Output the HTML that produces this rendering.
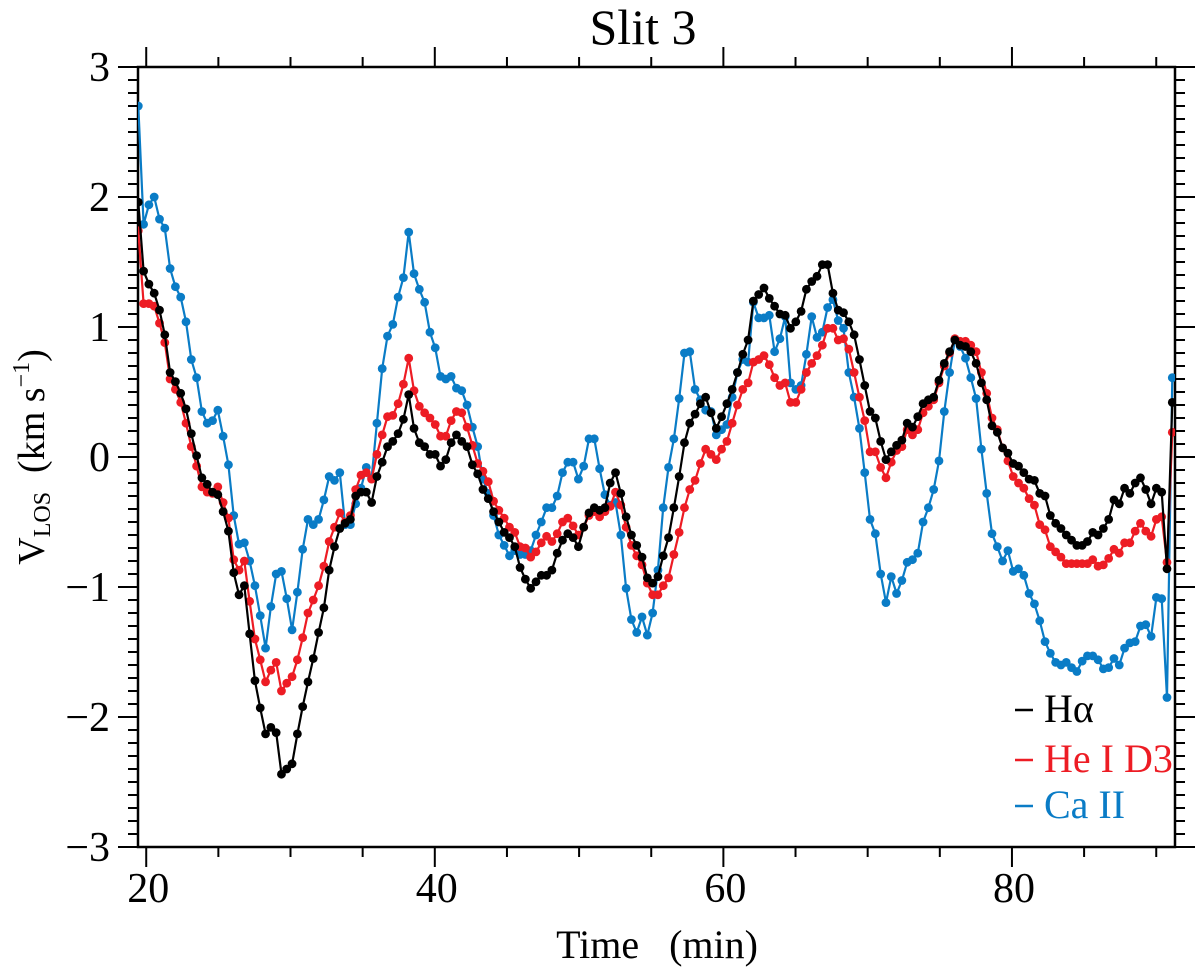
<!DOCTYPE html>
<html><head><meta charset="utf-8"><style>
html,body{margin:0;padding:0;background:#fff;}
svg{display:block;font-family:"Liberation Serif","DejaVu Serif",serif;}
</style></head><body>
<svg id="chart" width="1200" height="970" viewBox="0 0 1200 970" xmlns="http://www.w3.org/2000/svg">
<defs><clipPath id="clip"><rect x="138" y="67" width="1037" height="780"/></clipPath></defs>
<text x="643" y="44" font-size="50" text-anchor="middle">Slit 3</text>
<g id="axes"></g>
<g id="series" clip-path="url(#clip)"></g>
<text x="657" y="958" font-size="40" text-anchor="middle" xml:space="preserve">Time   (min)</text>
<text transform="translate(44,457) rotate(-90)" font-size="38" text-anchor="middle" xml:space="preserve">V<tspan font-size="24" dy="6">LOS</tspan><tspan dy="-6">  (km s</tspan><tspan font-size="24" dy="-15">−1</tspan><tspan dy="15">)</tspan></text>
<g font-size="40">
<g><line x1="1015" y1="710" x2="1033" y2="710" stroke="#000" stroke-width="2.5"/><text x="1044" y="722" fill="#000">Hα</text></g>
<g><line x1="1015" y1="760" x2="1033" y2="760" stroke="#ed1c24" stroke-width="2.5"/><text x="1044" y="772" fill="#ed1c24">He I D3</text></g>
<g><line x1="1015" y1="806" x2="1033" y2="806" stroke="#0a7cc6" stroke-width="2.5"/><text x="1044" y="818" fill="#0a7cc6">Ca II</text></g>
</g>
</svg>
<script>
const xTickLabels = ["20","40","60","80"];
const xTickValues = [20,40,60,80];
const yTickValues = [-3,-2,-1,0,1,2,3];
const yTickLabels = ["−3","−2","−1","0","1","2","3"];
const tStart = 19.45;
const tStep = 0.3675;
const halpha = [1.96,1.43,1.33,1.26,1.13,0.94,0.65,0.58,0.49,0.37,0.18,0.01,-0.16,-0.21,-0.27,-0.29,-0.42,-0.57,-0.89,-1.06,-0.99,-1.36,-1.72,-1.93,-2.13,-2.08,-2.12,-2.44,-2.40,-2.36,-2.13,-1.92,-1.73,
-1.55,-1.35,
-1.16,-0.87,-0.69,-0.55,-0.51,-0.48,-0.3,-0.27,-0.27,-0.35,-0.15,-0.04,0.08,0.12,0.18,0.29,0.48,0.22,0.11,0.08,0.02,0.02,-0.07,-0.02,0.11,0.17,0.12,0.08,-0.06,-0.13,
-0.25,-0.32,-0.42,-0.5,-0.58,-0.62,-0.69,-0.85,-0.94,-1.01,-0.96,-0.91,-0.91,-0.87,-0.74,-0.64,-0.59,-0.62,-0.69,-0.54,-0.43,-0.39,-0.41,-0.39,-0.2,-0.12,-0.28,-0.46,-0.6,-0.68,-0.77,-0.93,
-0.97,-0.92,-0.76,-0.62,-0.39,-0.15,0.11,0.26,0.33,0.41,0.46,0.34,0.22,0.31,0.41,0.52,0.65,0.79,0.9,
1.2,1.25,1.3,1.22,1.16,1.1,1.09,0.99,1.04,1.12,1.29,1.35,1.39,
1.48,1.48,1.26,1.13,1.11,1.04,0.94,0.75,0.55,0.35,0.3,0.12,-0.02,0.04,0.09,0.13,0.26,0.23,0.31,0.41,0.44,0.46,0.59,0.72,0.81,0.9,0.86,0.85,0.81,0.72,0.57,0.44,
0.24,0.19,0.07,0.03,-0.05,-0.07,-0.12,-0.17,-0.18,-0.28,-0.3,-0.45,-0.51,-0.55,-0.6,-0.64,-0.68,-0.68,-0.65,-0.58,-0.6,-0.55,-0.48,-0.33,-0.36,-0.24,-0.28,-0.2,-0.16,-0.25,-0.36,-0.24,-0.27,-0.86,0.42];
const heiD3 = [1.74,1.18,1.18,1.16,1.03,0.88,0.6,0.52,0.42,0.26,0.08,-0.07,-0.23,-0.27,-0.28,-0.23,-0.35,-0.47,-0.79,-0.87,-0.8,-1.11,-1.4,-1.56,-1.73,-1.64,-1.58,-1.8,-1.74,-1.69,-1.56,-1.39,-1.2,
-1.1,-0.99,
-0.84,-0.65,-0.54,-0.43,-0.5,-0.45,-0.25,-0.14,-0.12,-0.17,0.02,0.17,0.31,0.32,0.41,0.56,0.76,0.51,0.39,0.34,0.3,0.25,0.16,0.16,0.28,0.35,0.34,0.23,0.09,-0.05,
-0.11,-0.19,-0.34,-0.41,-0.47,-0.54,-0.58,-0.69,-0.7,-0.77,-0.73,-0.66,-0.61,-0.65,-0.59,-0.5,-0.47,-0.53,-0.6,-0.54,-0.45,-0.42,-0.46,-0.42,-0.38,-0.27,-0.37,-0.54,-0.68,-0.76,-0.83,-0.97,
-1.06,-1.06,-0.99,-0.93,-0.75,-0.58,-0.39,-0.25,-0.18,-0.05,0.06,0.02,-0.02,0.06,0.12,0.26,0.4,0.52,0.57,
0.73,0.75,0.78,0.71,0.61,0.55,0.57,0.42,0.42,0.52,0.65,0.72,0.78,
0.86,0.99,0.99,0.9,0.91,0.83,0.65,0.46,0.28,0.04,0.04,-0.08,-0.16,-0.04,0.05,0.08,0.21,0.17,0.21,0.34,0.39,0.44,0.57,0.7,0.8,0.91,0.89,0.89,0.86,0.81,0.65,0.49,
0.3,0.21,0.07,-0.03,-0.15,-0.2,-0.24,-0.32,-0.37,-0.52,-0.56,-0.69,-0.73,-0.77,-0.82,-0.82,-0.82,-0.82,-0.82,-0.79,-0.84,-0.83,-0.78,-0.71,-0.74,-0.66,-0.66,-0.57,-0.51,-0.57,-0.61,-0.48,-0.46,-0.81,0.19];
const caII = [2.7,1.79,1.94,2.0,1.83,1.76,1.45,1.31,1.23,1.04,0.75,0.61,0.35,0.26,0.28,0.36,0.16,-0.06,-0.45,-0.67,-0.66,-0.8,-0.99,-1.22,-1.47,-1.15,-0.9,-0.88,-1.09,-1.33,-1.04,-0.71,-0.48,
-0.52,-0.48,
-0.33,-0.15,-0.18,-0.12,-0.52,-0.52,-0.36,-0.24,-0.08,-0.16,0.26,0.68,0.93,1.02,1.23,1.38,1.73,1.41,1.29,1.19,0.96,0.84,0.62,0.6,0.62,0.53,0.51,0.4,0.23,0.08,
-0.17,-0.28,-0.45,-0.6,-0.68,-0.76,-0.72,-0.75,-0.75,-0.72,-0.6,-0.5,-0.39,-0.39,-0.3,-0.12,-0.04,-0.04,-0.17,-0.07,0.14,0.14,-0.09,-0.29,-0.37,-0.35,-0.6,-1.01,-1.25,-1.35,-1.23,-1.37,
-1.2,-0.87,-0.39,-0.08,0.14,0.45,0.8,0.81,0.52,0.44,0.36,0.35,0.17,0.21,0.25,0.46,0.65,0.75,0.73,
1.19,1.07,1.07,1.09,0.81,0.91,1.08,0.57,0.52,0.55,0.79,1.08,0.92,
0.96,1.15,1.21,1.05,0.99,0.65,0.46,0.22,-0.12,-0.48,-0.59,-0.9,-1.12,-0.92,-1.05,-0.95,-0.81,-0.79,-0.74,-0.5,-0.39,-0.25,-0.03,0.35,0.65,0.9,0.85,0.76,0.61,0.45,0.06,-0.28,
-0.59,-0.69,-0.8,-0.72,-0.88,-0.86,-0.91,-1.05,-1.13,-1.26,-1.42,-1.51,-1.58,-1.6,-1.58,-1.62,-1.65,-1.57,-1.53,-1.53,-1.56,-1.63,-1.62,-1.55,-1.6,-1.47,-1.43,-1.42,-1.3,-1.29,-1.38,-1.08,-1.09,-1.85,0.61];

const NS = "http://www.w3.org/2000/svg";
const L = 138, R = 1175, T = 67, B = 847;
const xMin = 19.43, xMax = 91.3, yMin = -3, yMax = 3;
function xs(t){ return L + (t - xMin) / (xMax - xMin) * (R - L); }
function ys(v){ return B - (v - yMin) / (yMax - yMin) * (B - T); }
function mk(tag, attrs, parent){ const e = document.createElementNS(NS, tag); for (const k in attrs) e.setAttribute(k, attrs[k]); parent.appendChild(e); return e; }

const axes = document.getElementById('axes');
const frame = mk('rect', {x:L, y:T, width:R-L, height:B-T, fill:'none', stroke:'#000', 'stroke-width':2.5}, axes);



for (let m = 20; m <= 90; m += 5) {
  const x = xs(m), major = (m % 20 === 0);
  const len = major ? 20 : 10;
  const tb = mk('line', {x1:x, y1:B, x2:x, y2:B+len, stroke:'#000', 'stroke-width':2}, axes);
  
  
  const tt = mk('line', {x1:x, y1:T, x2:x, y2:T-len, stroke:'#000', 'stroke-width':2}, axes);
  
  
}
xTickValues.forEach((v, i) => {
  const t = mk('text', {x:xs(v)+2, y:902, 'font-size':42, 'text-anchor':'middle'}, axes);
  t.textContent = xTickLabels[i];
  
  
});
for (let k = -30; k <= 30; k++) {
  const v = k / 10, y = ys(v), major = (k % 10 === 0);
  const len = major ? 20 : 10;
  const tl = mk('line', {x1:L, y1:y, x2:L-len, y2:y, stroke:'#000', 'stroke-width':2}, axes);
  
  
  const tr = mk('line', {x1:R, y1:y, x2:R+len, y2:y, stroke:'#000', 'stroke-width':2}, axes);
  
  
}
yTickValues.forEach((v, i) => {
  const t = mk('text', {x:110, y:ys(v)+14, 'font-size':42, 'text-anchor':'end'}, axes);
  t.textContent = yTickLabels[i];
  
  
});

const layer = document.getElementById('series');
function drawSeries(vals, color, name){
  const g = mk('g', {}, layer);
  
  
  const pts = vals.map((v, i) => xs(tStart + i * tStep).toFixed(1) + ',' + ys(v).toFixed(1)).join(' ');
  const pl = mk('polyline', {points:pts, fill:'none', stroke:color, 'stroke-width':2.2}, g);
  
  
  vals.forEach((v, i) => {
    const c = mk('circle', {cx:xs(tStart + i * tStep), cy:ys(v), r:4.4, fill:color}, g);
    
    
  });
}
drawSeries(caII, '#0a7cc6', 'ca-ii');
drawSeries(heiD3, '#ed1c24', 'he-i-d3');
drawSeries(halpha, '#000000', 'h-alpha');
</script>
</body></html>
